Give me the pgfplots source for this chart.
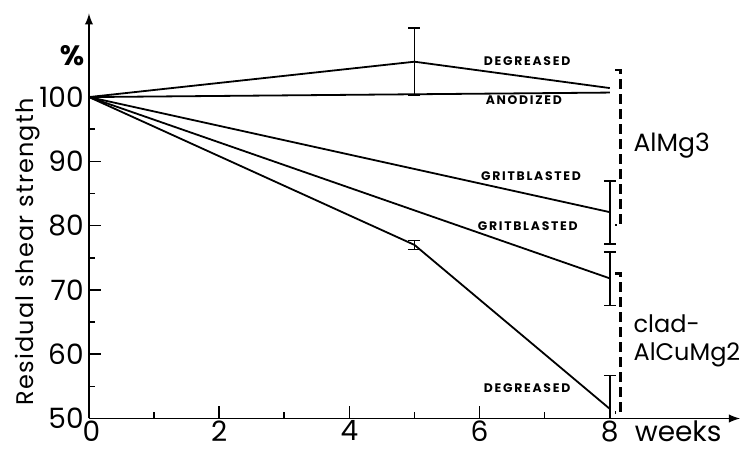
\documentclass[border=0pt]{standalone}
\usepackage{fontspec}
\setmainfont{Poppins}
\newfontfamily\spaced[LetterSpace=14]{Poppins}
\newfontfamily\labspaced[LetterSpace=5]{Poppins}
\usepackage{pgfplots}
\pgfplotsset{compat=1.18}
\pgfplotsset{
  ebar/.style={draw=none, mark=none, forget plot,
    error bars/.cd, y dir=both, y explicit,
    error bar style={draw=black, line width=0.8pt},
    error mark options={draw=black, rotate=90, mark size=3pt, line width=0.8pt}},
}
\begin{document}
\begin{tikzpicture}
\begin{axis}[
  scale only axis, width=325.5pt, height=202.5pt,
  xmin=0, xmax=10, ymin=50, ymax=113,
  axis lines=left,
  axis line style={line width=0.9pt, -latex},
  xtick={0,2,4,6,8}, minor xtick={1,3,5,7},
  xticklabels={\hspace{2.5pt}0,2,4,6,8},
  ytick={50,60,...,100}, minor ytick={55,65,...,95},
  tick align=inside,
  major tick length=6pt, minor tick length=3pt,
  tick style={black, line width=0.8pt},
  ticklabel style={font=\fontsize{14}{16}\selectfont},
  xticklabel style={inner sep=1pt},
  yticklabel style={inner sep=2.5pt},
  /pgf/number format/assume math mode=true,
  clip mode=individual,
]
% AlMg3 degreased
\addplot[black, line width=0.9pt] coordinates {(0,100) (5,105.5) (8,101.4)};
\addplot[ebar] coordinates {(5,105.5) += (0,5.2) -= (0,5.2)};
% AlMg3 anodized
\addplot[black, line width=0.9pt] coordinates {(0,100) (8,100.7)};
% AlMg3 gritblasted
\addplot[black, line width=0.9pt] coordinates {(0,100) (8,82.1)};
\addplot[ebar] coordinates {(8,82.1) += (0,4.8) -= (0,5.0)};
% clad gritblasted
\addplot[black, line width=0.9pt] coordinates {(0,100) (8,71.8)};
\addplot[ebar] coordinates {(8,71.8) += (0,4.1) -= (0,4.2)};
% clad degreased
\addplot[black, line width=0.9pt] coordinates {(0,100) (5,77) (8,51.5)};
\addplot[ebar] coordinates {(5,77) += (0,0.7) -= (0,0.7) (8,51.5) += (0,5.2) -= (0,4)};
% brackets
\addplot[black, line width=1.4pt, dash pattern=on 5pt off 2.5pt] coordinates {(8.08,104.2) (8.17,104.2) (8.17,80.1) (8.08,80.1)};
\addplot[black, line width=1.4pt, dash pattern=on 5pt off 2.5pt] coordinates {(8.08,72.6) (8.17,72.6) (8.17,50.9) (8.08,50.9)};
% labels
\node[font=\spaced\bfseries\fontsize{6.2}{7}\selectfont] at (axis cs:6.73,105.6) {DEGREASED};
\node[font=\spaced\bfseries\fontsize{6.2}{7}\selectfont] at (axis cs:6.68,99.5) {ANODIZED};
\node[font=\spaced\bfseries\fontsize{6.2}{7}\selectfont] at (axis cs:6.79,87.7) {GRITBLASTED};
\node[font=\spaced\bfseries\fontsize{6.2}{7}\selectfont] at (axis cs:6.74,79.9) {GRITBLASTED};
\node[font=\spaced\bfseries\fontsize{6.2}{7}\selectfont] at (axis cs:6.73,54.8) {DEGREASED};
\node[anchor=west, inner sep=0pt, font=\fontsize{12.5}{14}\selectfont] at (axis cs:8.36,92.5) {AlMg3};
\node[anchor=west, inner sep=0pt, align=left, font=\fontsize{12}{14}\selectfont] at (axis cs:8.36,62) {clad-\\AlCuMg2};
\node[font=\bfseries\fontsize{14}{16}\selectfont] at (axis cs:-0.26,106.4) {\%};
\node[anchor=north, inner sep=1pt, font=\fontsize{14}{16}\selectfont] at (axis cs:9.05,50) {weeks};
\node[rotate=90, font=\labspaced\fontsize{12}{13}\selectfont] at (axis cs:-0.937,75.9) {Residual shear strength};
\coordinate (bl) at (axis cs:-1.367,45.0);
\coordinate (tr) at (axis cs:10.077,115.1);
\end{axis}
\pgfresetboundingbox
\path[use as bounding box] (bl) rectangle (tr);
\end{tikzpicture}
\end{document}
